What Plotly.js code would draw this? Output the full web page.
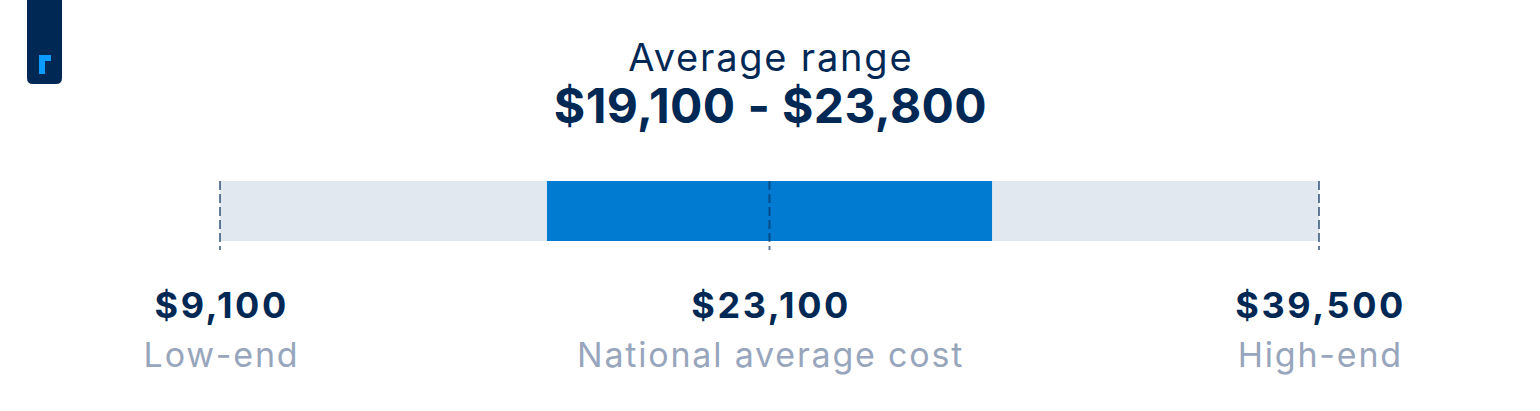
<!DOCTYPE html>
<html>
<head>
<meta charset="utf-8">
<script src="https://cdn.plot.ly/plotly-3.0.1.min.js"></script>
<style>
  html, body { margin: 0; padding: 0; background: #ffffff; }
  #chart { width: 1540px; height: 411px; }
</style>
</head>
<body>
<div id="chart"></div>
<script>
// ---- Data ----
const titleLine = "Average range";
const rangeLow = 19100;
const rangeHigh = 23800;
const markerKeys = ["low", "average", "high"];
const markerValues = [9100, 23100, 39500];
const markerLabels = ["Low-end", "National average cost", "High-end"];

// ---- Schematic placement along the track (the reference is not to scale) ----
const trackPos = { low: 0, average: 0.5, high: 1 };
const bandPos = { from: 0.2975, to: 0.7025 };

const W = 1540, H = 411;
const NAVY = "#002855";
const BLUE = "#007bd1";
const TRACK = "#e2e8f0";
const GREY = "#97a6bc";
const FONT = "Inter, 'Noto Sans', sans-serif";

const money = v => "$" + v.toLocaleString("en-US");
const py = p => 1 - p / H;
const px = p => p / W;

const traces = [
  { type: "bar", orientation: "h", y: [0], base: [trackPos.low],
    x: [trackPos.high - trackPos.low], width: [1],
    marker: { color: TRACK, line: { width: 0 } }, hoverinfo: "skip" },
  { type: "bar", orientation: "h", y: [0], base: [bandPos.from],
    x: [bandPos.to - bandPos.from], width: [1],
    marker: { color: BLUE, line: { width: 0 } }, hoverinfo: "skip" }
];

const shapes = markerKeys.map(k => ({
  type: "line", xref: "x", yref: "y",
  x0: trackPos[k], x1: trackPos[k], y0: 0.5, y1: -0.65,
  line: { color: "rgba(0,40,85,0.6)", width: 2, dash: "9px,4px" }
}));

function pxPath(pts) {
  return "M" + pts.map(p => px(p[0]).toFixed(5) + "," + py(p[1]).toFixed(5)).join(" L") + " Z";
}
shapes.push({
  type: "path", xref: "paper", yref: "paper",
  path: "M" + px(27) + "," + py(0) + " L" + px(62) + "," + py(0) +
        " L" + px(62) + "," + py(78) + " Q" + px(62) + "," + py(84) + " " + px(56) + "," + py(84) +
        " L" + px(33) + "," + py(84) + " Q" + px(27) + "," + py(84) + " " + px(27) + "," + py(78) + " Z",
  fillcolor: NAVY, line: { width: 0 }
});
shapes.push({
  type: "path", xref: "paper", yref: "paper",
  path: pxPath([[39,55],[51,55],[51,61],[45,61],[45,74],[39,74]]),
  fillcolor: "#0a9bff", line: { width: 0 }
});

const spacing = [];   // letter-spacing per annotation (px)
const annotations = [
  { text: titleLine, xref: "paper", yref: "paper", x: 0.5, y: py(57),
    showarrow: false, xanchor: "center", yanchor: "middle",
    font: { family: FONT, size: 38, color: NAVY } },
  { text: "<b>" + money(rangeLow) + " - " + money(rangeHigh) + "</b>",
    xref: "paper", yref: "paper", x: 0.5, y: py(105),
    showarrow: false, xanchor: "center", yanchor: "middle",
    font: { family: FONT, size: 48, color: NAVY } }
];
spacing.push(1.8, 0.4);
markerKeys.forEach((k, i) => {
  annotations.push({ text: "<b>" + money(markerValues[i]) + "</b>", xref: "x", yref: "paper",
    x: trackPos[k], y: py(305), showarrow: false, xanchor: "center", yanchor: "middle",
    font: { family: FONT, size: 36, color: NAVY } });
  annotations.push({ text: markerLabels[i], xref: "x", yref: "paper",
    x: trackPos[k], y: py(354), showarrow: false, xanchor: "center", yanchor: "middle",
    font: { family: FONT, size: 34, color: GREY } });
  spacing.push(2.6, 1.8);
});

const x0px = 220, x1px = 1319;
const unit = (x1px - x0px);
const xr = [-(x0px) / unit, (W - x0px) / unit];
const cy = 211, hy = 60;
const yr = [-(H - cy) / hy, cy / hy];

const layout = {
  width: W, height: H,
  margin: { l: 0, r: 0, t: 0, b: 0, pad: 0 },
  paper_bgcolor: "#ffffff", plot_bgcolor: "#ffffff",
  showlegend: false, barmode: "overlay",
  xaxis: { range: xr, visible: false, fixedrange: true },
  yaxis: { range: yr, visible: false, fixedrange: true },
  shapes: shapes, annotations: annotations
};

Plotly.newPlot("chart", traces, layout, { staticPlot: true, displayModeBar: false }).then(gd => {
  gd.querySelectorAll("g.annotation").forEach(g => {
    const i = +g.getAttribute("data-index");
    const t = g.querySelector("text.annotation-text");
    if (t && spacing[i]) {
      t.style.letterSpacing = spacing[i] + "px";
      const x = parseFloat(t.getAttribute("x") || "0");
      t.setAttribute("x", x + spacing[i] / 2);
    }
  });
});
</script>
</body>
</html>
